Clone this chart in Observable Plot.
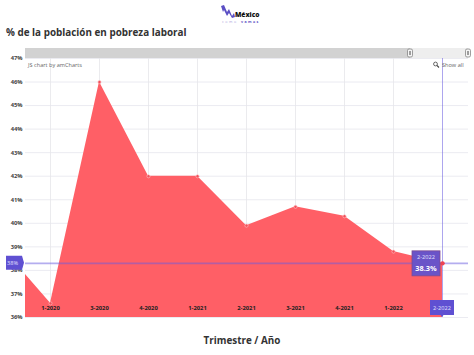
<!DOCTYPE html>
<html lang="es">
<head>
<meta charset="utf-8">
<script src="https://cdn.jsdelivr.net/npm/d3@7"></script>
<script src="https://cdn.jsdelivr.net/npm/@observablehq/plot@0.6"></script>
<style>
  html, body { margin: 0; padding: 0; background: #fff; width: 474px; height: 355px; overflow: hidden; font-family: "Open Sans", sans-serif; }
  #head { position: relative; height: 46px; }
  #title { position: absolute; left: 6px; top: 24px; font-size: 9.9px; font-weight: 700; color: #333; line-height: 16px; white-space: nowrap; }
  #logo { position: absolute; left: 221px; top: 4px; width: 44px; height: 20px; }
  #foot { text-align: center; font-size: 9.9px; font-weight: 700; color: #333; line-height: 16px; margin-top: 10px; padding-left: 10px; }
  svg { display: block; }
</style>
</head>
<body>
<div id="head">
  <div id="title">% de la población en pobreza laboral</div>
  <svg id="logo" viewBox="0 0 44 20" width="44" height="20">
    <path d="M0 2 L3 1 L6 8 L8 5 L11 12 L13 9 L14 13 L11 14 L8 9 L6 12 L3 6 L2 8 Z" fill="#5b4fc4"></path>
    <text x="14" y="12.5" font-family="Open Sans" font-size="6.6" font-weight="800" fill="#111">México</text>
    <text x="1" y="18.5" font-family="Open Sans" font-size="3.6" letter-spacing="1.6" fill="#a9a4dc">como</text>
    <text x="20" y="18.5" font-family="Open Sans" font-size="3.6" font-weight="700" letter-spacing="1.4" fill="#5b4fc4">vamos</text>
  </svg>
</div>
<div id="chart"></div>
<div id="foot">Trimestre / Año</div>
<script>
const quarters = ["4-2019","1-2020","3-2020","4-2020","1-2021","2-2021","3-2021","4-2021","1-2022","2-2022"];
const poverty  = [39.0, 36.6, 46.0, 42.0, 42.0, 39.9, 40.7, 40.3, 38.8, 38.3];
const xLabels  = ["1-2020","3-2020","4-2020","1-2021","2-2021","3-2021","4-2021","1-2022"];
const gridQuarters = ["1-2020","3-2020","4-2020","1-2021","2-2021","3-2021","4-2021","1-2022"];
const yLabels  = [36,37,38,39,40,41,42,43,44,45,46,47];
const cursorQuarter = "2-2022";
const cursorValue = 38.3;
const cursorTick = "38%";
const credit = "JS chart by amCharts";
const showAll = "Show all";

const rows = quarters.map((q, i) => ({q, v: poverty[i]}));
const purple = "#5f50d2";
const font = '"Open Sans", sans-serif';

function chrome(index, {x, y}, values, dim) {
  const g = d3.create("svg:g").attr("font-family", font).attr("text-anchor", "start");
  const L = dim.marginLeft, R = dim.width - dim.marginRight, T = dim.marginTop;
  const scrollY = T - 10, scrollH = 10, handle = R - 58;
  g.append("rect").attr("x", L).attr("y", scrollY).attr("width", handle - L).attr("height", scrollH).attr("fill", "#d2d2d2");
  g.append("rect").attr("x", handle).attr("y", scrollY).attr("width", R - handle).attr("height", scrollH).attr("fill", "#eeeeee");
  for (const hx of [handle, R]) {
    g.append("rect").attr("x", hx - 2.5).attr("y", scrollY + 1).attr("width", 5).attr("height", 8).attr("rx", 1.5)
      .attr("fill", "#f4f4f4").attr("stroke", "#777").attr("stroke-width", 0.7);
    g.append("rect").attr("x", hx - 0.8).attr("y", scrollY + 3).attr("width", 1.6).attr("height", 4).attr("fill", "#888");
  }
  g.append("text").attr("x", L + 3).attr("y", T + 8.5).attr("font-size", 5.6).attr("fill", "#666").text(credit);
  g.append("text").attr("x", R - 26).attr("y", T + 8.5).attr("font-size", 5.6).attr("fill", "#666").text(showAll);
  g.append("circle").attr("cx", R - 32.5).attr("cy", T + 6).attr("r", 1.9).attr("fill", "none").attr("stroke", "#555").attr("stroke-width", 0.9);
  g.append("line").attr("x1", R - 31).attr("y1", T + 7.5).attr("x2", R - 29).attr("y2", T + 9.5).attr("stroke", "#444").attr("stroke-width", 1.1);

  const cx = x(cursorQuarter), cy = y(cursorValue);
  g.append("path").attr("d", `M6 ${cy-7}H22L24 ${cy}L22 ${cy+7}H6Z`).attr("fill", purple);
  g.append("text").attr("x", 12.5).attr("y", cy + 2).attr("font-size", 5.6).attr("fill", "#e4e0ff").attr("text-anchor", "middle").text(cursorTick);
  const by = dim.height - dim.marginBottom;
  g.append("path").attr("d", `M${cx-12} ${by-17}H${cx+12}V${by-2}H${cx+1.5}L${cx} ${by}L${cx-1.5} ${by-2}H${cx-12}Z`).attr("fill", purple);
  g.append("text").attr("x", cx).attr("y", by - 7.5).attr("font-size", 5.6).attr("fill", "#e4e0ff").attr("text-anchor", "middle").text(cursorQuarter);
  g.append("rect").attr("x", cx - 30).attr("y", cy - 12).attr("width", 28).attr("height", 25)
    .attr("fill", "#6a54c8").attr("stroke", "#7f4a92").attr("stroke-width", 0.8);
  g.append("text").attr("x", cx - 16).attr("y", cy - 3.5).attr("font-size", 5.6).attr("fill", "#e4e0ff").attr("text-anchor", "middle").text(cursorQuarter);
  g.append("text").attr("x", cx - 16).attr("y", cy + 8).attr("font-size", 7.4).attr("font-weight", 700).attr("fill", "#fff").attr("text-anchor", "middle").text(cursorValue.toFixed(1) + "%");
  return g.node();
}

const plot = Plot.plot({
  width: 474,
  height: 276,
  marginTop: 12,
  marginBottom: 5,
  marginLeft: 25,
  marginRight: 6,
  style: {fontFamily: font, background: "#fff"},
  x: {type: "point", domain: quarters, range: [0.9, 442.8], padding: 0, label: null},
  y: {domain: [36, 47], label: null},
  marks: [
    Plot.gridY(yLabels, {stroke: "#e6e6ee", strokeOpacity: 1, strokeWidth: 0.8}),
    Plot.ruleX(gridQuarters, {x: d => d, stroke: "#e6e6ea", strokeWidth: 0.8}),
    Plot.areaY(rows, {x: "q", y1: 36, y2: "v", fill: "#ff5a61", fillOpacity: 0.97, curve: "linear", clip: true}),
    Plot.dot(rows, {x: "q", y: "v", r: 1.6, fill: "#f0505a", stroke: "#ffc4c6", strokeWidth: 0.6, clip: true}),
    Plot.axisY({ticks: yLabels, tickFormat: d => d + "%", tickSize: 0, tickPadding: 3, fontSize: 5.8, fontWeight: 700, fill: "#444", label: null}),
    Plot.axisX({ticks: xLabels, anchor: "bottom", tickSize: 0, tickPadding: -12, fontSize: 5.8, fontWeight: 700, fill: "#222", label: null}),
    Plot.ruleY([cursorValue], {stroke: "#6a5ce0", strokeOpacity: 0.5, strokeWidth: 1.6}),
    Plot.ruleX([cursorQuarter], {stroke: "#6a5ce0", strokeOpacity: 0.55, strokeWidth: 1}),
    Plot.dot([{q: cursorQuarter, v: cursorValue}], {x: "q", y: "v", r: 2.2, fill: "#ee4452", clip: false}),
    chrome
  ]
});
document.getElementById("chart").appendChild(plot);
</script>
</body>
</html>
